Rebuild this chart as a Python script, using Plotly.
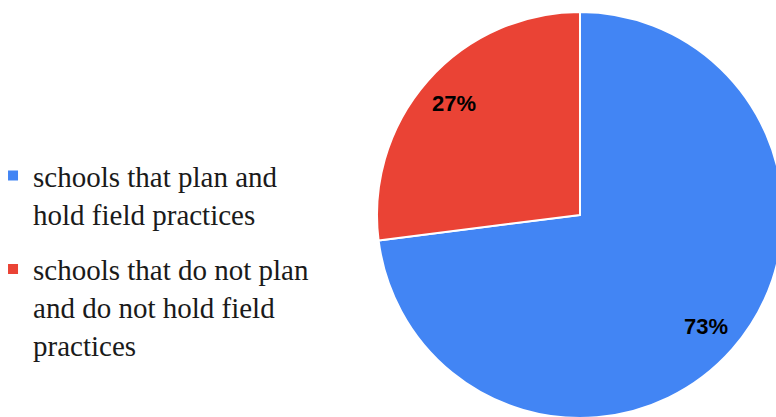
import math
import plotly.graph_objects as go

labels = ["schools that plan and<br>hold field practices",
          "schools that do not plan<br>and do not hold field<br>practices"]
values = [73, 27]
colors = ["#4285F4", "#EA4335"]

W, H = 776, 417
dom_x = [0.4755, 0.9987]
dom_y = [0.0168, 0.9904]

fig = go.Figure()
fig.add_trace(go.Pie(
    labels=labels,
    values=values,
    sort=False,
    direction="clockwise",
    rotation=0,
    marker=dict(colors=colors, line=dict(color="white", width=2)),
    textinfo="none",
    domain=dict(x=dom_x, y=dom_y),
    hoverinfo="none",
    showlegend=False,
))

# legend proxies (one per category)
for i, (lab, col) in enumerate(zip(labels, colors)):
    fig.add_trace(go.Scatter(
        x=[None], y=[None], mode="markers", name=lab,
        marker=dict(symbol="square", size=10, color=col),
        legendgroup=f"g{i}", showlegend=True, hoverinfo="skip",
    ))

# percentage labels, placed along each slice's mid-angle
total = sum(values)
cx = (dom_x[0] + dom_x[1]) / 2
cy = (dom_y[0] + dom_y[1]) / 2
R = min((dom_x[1] - dom_x[0]) * W, (dom_y[1] - dom_y[0]) * H) / 2
cum = 0
for v in values:
    mid = (cum + v / 2) / total
    cum += v
    ang = math.pi / 2 - 2 * math.pi * mid
    r = 0.83 * R
    fig.add_annotation(
        x=cx + r * math.cos(ang) / W, y=cy + r * math.sin(ang) / H,
        xref="paper", yref="paper", showarrow=False,
        xanchor="center", yanchor="middle",
        text=f"{round(100 * v / total)}%",
        font=dict(family="Liberation Sans", size=22, color="black", weight="bold"),
    )

fig.update_layout(
    width=W, height=H,
    margin=dict(l=0, r=0, t=0, b=0, autoexpand=False),
    paper_bgcolor="white",
    plot_bgcolor="white",
    xaxis=dict(visible=False),
    yaxis=dict(visible=False),
    showlegend=True,
    legend=dict(
        x=-0.0193, y=0.659, xanchor="left", yanchor="top",
        font=dict(family="Liberation Serif", size=29, color="#1a1a1a"),
        valign="top",
        tracegroupgap=15,
        bgcolor="rgba(0,0,0,0)",
        itemclick=False, itemdoubleclick=False,
    ),
)

fig.write_html(
    "out.html",
    post_script="document.body.style.overflow='hidden';document.body.style.marginRight='0px';",
)
